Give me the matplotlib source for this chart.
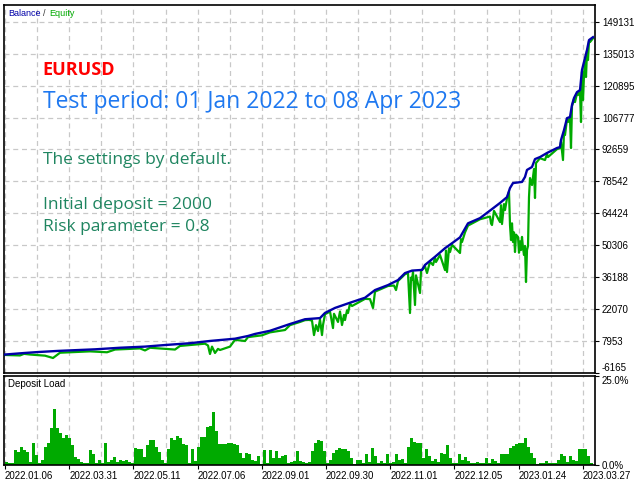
import numpy as np
import matplotlib
matplotlib.use("Agg")
import matplotlib.pyplot as plt

# balance curve (deal index -> account balance)
balance_x = [1, 21, 34, 54, 91, 116, 141, 161, 186, 206, 231, 244, 251, 266, 286, 301, 316,
             321, 331, 346, 361, 371, 384, 394, 401, 408, 418, 421, 431, 441, 448, 456, 464,
             476, 488, 496, 503, 506, 509, 518, 521, 523, 528, 531, 536, 543, 553, 556, 557,
             560, 563, 566, 568, 570, 573, 576, 578, 581, 583, 585, 589]
balance_y = [2000, 2700, 3100, 3600, 4300, 5000, 5500, 6200, 7000, 8000, 9000, 10200, 11100,
             12500, 15500, 17600, 18100, 20400, 22600, 24900, 27100, 30500, 32700, 34900, 38000,
             39100, 39400, 41600, 45200, 49000, 51200, 53800, 60000, 62300, 66300, 69000, 71600,
             75600, 77800, 78300, 80500, 83600, 84900, 88400, 89300, 91100, 93300, 93700, 96800,
             101200, 106500, 107000, 112300, 115400, 118000, 118900, 127800, 133100, 136600,
             141000, 142300]

# equity curve (follows balance, with drawdown spikes)
equity_x = [1, 16, 20, 26, 41, 49, 56, 86, 103, 111, 136, 141, 146, 171, 176, 201, 204, 206,
            208, 211, 214, 216, 226, 231, 241, 244, 258, 266, 281, 286, 296, 301, 305, 308, 310,
            312, 314, 316, 318, 319, 321, 326, 329, 330, 334, 336, 338, 340, 341, 343, 344, 346,
            348, 361, 366, 369, 371, 384, 390, 392, 394, 401, 404, 406, 407, 408, 409, 411, 412,
            416, 417, 421, 423, 426, 429, 431, 432, 436, 441, 442, 443, 445, 446, 448, 456, 457,
            458, 461, 464, 476, 486, 487, 488, 490, 496, 497, 498, 500, 501, 503, 505, 506, 507,
            508, 509, 510, 511, 512, 514, 515, 516, 517, 518, 519, 520, 521, 522, 523, 524, 525,
            526, 528, 530, 531, 532, 536, 541, 543, 544, 553, 556, 557, 559, 560, 561, 563, 564,
            566, 567, 568, 570, 571, 573, 574, 576, 577, 578, 579, 580, 581, 582, 583, 584, 585,
            586, 589]
equity_y = [1800, 1600, 2300, 2000, 1500, 470, 2800, 3400, 3000, 4200, 4700, 3800, 5000, 4200,
            5800, 6800, 6000, 2230, 5500, 2680, 4500, 4000, 5500, 8500, 7980, 9700, 10500, 11800,
            12840, 15000, 16400, 17200, 17300, 17000, 10600, 15000, 12400, 17500, 10600, 15000,
            19800, 21000, 13700, 20000, 16400, 21000, 15050, 19500, 17260, 21500, 20350, 24500,
            23450, 26600, 26500, 22570, 29800, 32300, 32500, 30500, 34500, 37500, 38000, 20350,
            36000, 34940, 38500, 23890, 37000, 29200, 38800, 41000, 38035, 43000, 41570, 44800,
            42900, 46000, 39360, 48000, 38480, 49000, 47300, 50500, 46880, 53000, 51740, 56000,
            59000, 61800, 63000, 60000, 59250, 65500, 60580, 68000, 59690, 68500, 65880, 71000,
            74000, 59250, 52620, 60000, 51740, 56000, 47320, 55000, 53950, 47000, 52000, 48200,
            54000, 49085, 46000, 50000, 34060, 48200, 50000, 71630, 80000, 76930, 84000, 71190,
            86650, 88800, 87980, 90600, 89300, 92800, 93300, 96000, 87980, 100500, 99030, 106000,
            104780, 106500, 93285, 111800, 114900, 113600, 117500, 116700, 118400, 104780,
            127000, 114500, 125550, 132500, 124670, 136000, 132180, 140500, 140140, 141800]

# deposit load, %
deposit_load = [0.85, 0.66, 0.66, 4.2, 3.7, 5.1, 4.2, 3.7, 0.85, 6.1, 2.9, 0.6, 1.3, 5.1, 6.1,
                10.3, 15.8, 10.3, 8.9, 7.5, 8.4, 7.5, 5.6, 2.3, 1.8, 0.85, 0.66, 0.66, 4.2, 3.2,
                0.66, 1.3, 0.66, 6.3, 0.85, 1.3, 2.3, 0.85, 1.3, 1.1, 1.3, 0.85, 0.66, 4.8, 4.6,
                4.4, 2.3, 5.6, 7.0, 7.0, 5.0, 3.7, 1.5, 0.6, 4.5, 7.5, 7.0, 8.1, 7.5, 5.8, 5.6,
                0.5, 4.5, 1.0, 5.1, 7.8, 8.0, 10.8, 11.0, 15.0, 9.5, 6.0, 6.0, 5.8, 6.3, 6.2, 5.8,
                5.6, 3.5, 2.1, 3.5, 3.0, 1.5, 1.2, 2.5, 0.4, 4.2, 0.66, 4.2, 2.0, 4.0, 2.0, 2.5,
                2.7, 0.66, 0.85, 1.0, 3.9, 1.2, 0.85, 0.5, 0.9, 4.0, 6.3, 6.9, 6.7, 4.0, 0.6, 1.3,
                3.5, 4.3, 4.7, 4.6, 4.4, 3.8, 2.0, 0.4, 1.3, 1.3, 0.66, 3.0, 0.8, 4.8, 2.5, 0.57,
                1.0, 0.57, 3.0, 0.57, 0.85, 3.0, 1.5, 1.8, 0.7, 5.0, 7.5, 6.5, 6.3, 6.06, 2.0, 4.5,
                2.5, 1.0, 1.7, 0.9, 3.5, 3.0, 5.6, 2.0, 0.66, 0.66, 3.0, 1.5, 2.3, 1.2, 0.66, 0.66,
                0.8, 0.6, 0.6, 2.0, 0.66, 1.6, 1.2, 0.7, 3.0, 3.0, 3.0, 4.9, 5.4, 5.9, 6.2, 6.1,
                7.5, 5.0, 3.5, 2.0, 0.4, 0.6, 0.6, 1.0, 0.6, 0.7, 0.7, 1.5, 3.0, 2.5, 0.8, 2.5,
                1.5, 1.0, 4.5, 4.6, 4.5, 2.5, 0.7]

y_ticks = [-6165, 7953, 22070, 36188, 50306, 64424, 78542, 92659, 106777, 120895, 135013, 149131]
date_labels = ['2022.01.06', '2022.03.31', '2022.05.11', '2022.07.06', '2022.09.01',
               '2022.09.30', '2022.11.01', '2022.12.05', '2023.01.24', '2023.03.27']

BLUE = '#0000A8'
GREEN = '#00AA00'
GRID = dict(color='#c8c8c8', linestyle=(0, (4, 3)), linewidth=0.9)
X_MAX = 591
SMALL = 'Liberation Sans'

fig = plt.figure(figsize=(6.4, 4.8), dpi=100)
ax = fig.add_axes([4 / 640, 1 - 373 / 480, 591 / 640, 368 / 480])
ax2 = fig.add_axes([4 / 640, 1 - 465 / 480, 591 / 640, 89 / 480])

grid_x = np.arange(1, X_MAX - 5, 32.1)

# main panel
for gx in grid_x:
    ax.axvline(gx, **GRID, zorder=0)
for gy in y_ticks[1:]:
    ax.axhline(gy, **GRID, zorder=0)
ax.plot(equity_x, equity_y, color=GREEN, lw=1.6, zorder=2)
ax.plot(balance_x, balance_y, color=BLUE, lw=1.7, zorder=3)
ax.set_xlim(0, X_MAX)
ax.set_ylim(-6165, 156514)
ax.set_xticks([])
ax.yaxis.tick_right()
ax.set_yticks(y_ticks)
ax.set_yticklabels([str(v) for v in y_ticks])
ax.tick_params(axis='y', direction='out', length=3, width=0.8, pad=2, labelsize=7)
for lbl in ax.get_yticklabels():
    lbl.set_fontfamily(SMALL)
ax.get_yticklabels()[0].set_va('bottom')
for sp in ax.spines.values():
    sp.set_linewidth(1.2)

ax.text(4 / 591, 1 - 8 / 368, 'Balance', transform=ax.transAxes, color=BLUE,
        fontsize=6.5, family=SMALL, va='center', ha='left')
ax.text(39 / 591, 1 - 8 / 368, '/', transform=ax.transAxes, color='#333333',
        fontsize=6.5, family=SMALL, va='center', ha='left')
ax.text(45 / 591, 1 - 8 / 368, 'Equity', transform=ax.transAxes, color=GREEN,
        fontsize=6.5, family=SMALL, va='center', ha='left')

ax.text(0.0655, 0.824, 'EURUSD', transform=ax.transAxes, color='#FF0000',
        fontsize=13, fontweight='bold', family='Open Sans', va='center')
ax.text(0.0655, 0.737, 'Test period: 01 Jan 2022 to 08 Apr 2023', transform=ax.transAxes,
        color='#1E78F0', fontsize=16.5, family='Open Sans', va='center')
ax.text(0.0655, 0.579, 'The settings by default.', transform=ax.transAxes,
        color='#1F8560', fontsize=12.5, family='Open Sans', va='center')
ax.text(0.0655, 0.4565, 'Initial deposit = 2000', transform=ax.transAxes,
        color='#1F8560', fontsize=12.5, family='Open Sans', va='center')
ax.text(0.0655, 0.3976, 'Risk parameter = 0.8', transform=ax.transAxes,
        color='#1F8560', fontsize=12.5, family='Open Sans', va='center')

# deposit load panel
for gx in grid_x:
    ax2.axvline(gx, **GRID, zorder=0)
bar_x = 2.5 + 3 * np.arange(len(deposit_load))
ax2.bar(bar_x, deposit_load, width=3, color=GREEN, linewidth=0, zorder=2)
ax2.set_xlim(0, X_MAX)
ax2.set_ylim(0, 25)
ax2.yaxis.tick_right()
ax2.set_yticks([0, 25])
ax2.set_yticklabels(['0.0%', '25.0%'])
ax2.tick_params(axis='y', direction='out', length=3, width=0.8, pad=2, labelsize=7)
ylbls = ax2.get_yticklabels()
ylbls[1].set_va('top')
for lbl in ylbls:
    lbl.set_fontfamily(SMALL)
ax2.set_xticks(grid_x[::2])
ax2.set_xticklabels(date_labels, ha='left')
ax2.tick_params(axis='x', direction='out', length=3, width=0.8, pad=1, labelsize=7)
for lbl in ax2.get_xticklabels():
    lbl.set_fontfamily(SMALL)
for sp in ax2.spines.values():
    sp.set_linewidth(1.2)
ax2.text(4 / 591, 1 - 8 / 89, 'Deposit Load', transform=ax2.transAxes, color='black',
         fontsize=7, family=SMALL, va='center', ha='left')

fig.savefig('out.png', dpi=100)
